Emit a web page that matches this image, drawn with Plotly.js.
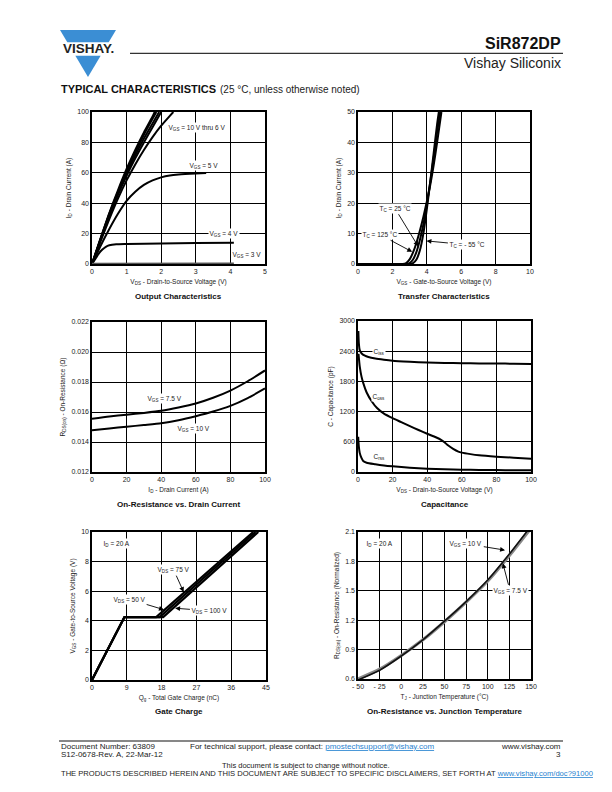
<!DOCTYPE html>
<html><head><meta charset="utf-8">
<script src="https://cdn.plot.ly/plotly-3.0.1.min.js"></script>
<style>html,body{margin:0;padding:0;background:#fff;overflow:hidden;}#page{width:612px;height:792px;}</style>
</head><body><div id="page"></div>
<script>
// ---------- DATA ----------
const out10x = [0,0.25,0.5,0.75,1,1.25,1.5,1.75,1.81];
const out10y = [0,17,33.5,48.5,62.5,75,86.5,97,100];
const out9x  = [0,0.25,0.5,0.75,1,1.25,1.5,1.75,1.86];
const out9y  = [0,16.8,33,47.5,61,73.5,85,95.5,100];
const out8x  = [0,0.25,0.5,0.75,1,1.25,1.5,1.75,1.94];
const out8y  = [0,16.5,32.5,46.5,59.5,71.5,82.5,92.5,100];
const out7x  = [0,0.25,0.5,0.75,1,1.25,1.5,1.75,2.0];
const out7y  = [0,16,31.5,45.5,58,69.5,80,90,100];
const out6x  = [0,0.25,0.5,0.75,1,1.25,1.5,1.75,2,2.25,2.35];
const out6y  = [0,15,29.5,43,55,65.5,75,83.5,91,97.5,100];
const out5x  = [0,0.25,0.5,0.75,1,1.25,1.5,1.75,2,2.25,2.5,3,3.3];
const out5y  = [0,12,23,33,41.5,47.5,52,55,57,58.2,58.8,59.5,59.8];
const out4x  = [0,0.1,0.2,0.3,0.4,0.5,0.7,1,2,3,4.1];
const out4y  = [0,3.5,7,9.5,11.3,12.3,13,13.2,13.5,13.8,14];
const out3x  = [0,4.1];
const out3y  = [0.3,0.5];
const trM55x = [0,3.0,3.2,3.4,3.6,3.8,4.0,4.2,4.4,4.6,4.7];
const trM55y = [0,0,0.3,1.5,4.5,10,18,27,36.5,46,50];
const tr25x  = [0,2.8,3.0,3.2,3.4,3.6,3.8,4.0,4.2,4.4,4.6,4.78];
const tr25y  = [0,0,0.3,1.5,4,8,13,19.5,27,35,43.5,50];
const tr125x = [0,2.6,2.8,3.0,3.2,3.4,3.6,3.8,4.0,4.2,4.4,4.6,4.85];
const tr125y = [0,0,0.3,1.5,3.8,7,11,15.5,20.5,26,32.5,40,50];
const rdsId  = [0,10,20,30,40,50,60,70,80,90,100];
const rds75  = [0.01555,0.0157,0.01582,0.01594,0.01608,0.0163,0.01657,0.01695,0.01743,0.01805,0.01877];
const rds10  = [0.01478,0.0149,0.01502,0.01513,0.01525,0.01545,0.01572,0.01603,0.01641,0.01693,0.01757];
const cissX = [0.2,0.5,1,2,4,6,10,15,20,30,40,50,60,70,80,90,100];
const cissY = [2800,2550,2420,2360,2310,2285,2255,2230,2210,2190,2175,2168,2162,2158,2155,2152,2148];
const cossX = [0.3,1,2,3,5,8,11,15,20,25,30,35,40,45,48,50,52,55,58,60,65,70,80,90,100];
const cossY = [2350,2100,1900,1770,1580,1400,1270,1160,1070,990,910,835,760,690,640,590,530,460,405,385,355,332,305,285,262];
const crssX = [0.1,0.5,1,2,3,5,10,15,20,30,40,50,60,70,80,90,100];
const crssY = [700,500,380,280,220,185,155,130,112,85,66,55,47,42,38,35,33];
const qg50x  = [0,8.4,16.6,41.7];
const qg50y  = [0,4.25,4.25,10];
const qg75x  = [0,8.4,17.5,42.3];
const qg75y  = [0,4.25,4.25,10];
const qg100x = [0,8.4,18.4,43.0];
const qg100y = [0,4.25,4.25,10];
const tjX    = [-50,-25,0,25,50,75,100,125,150];
const tj10   = [0.59,0.69,0.835,1.0,1.19,1.39,1.61,1.875,2.16];
const tj75   = [0.6,0.7,0.84,1.0,1.185,1.385,1.6,1.86,2.14];
const tjTickVals = [-50,-25,0,25,50,75,100,125,150];
const tjTickText = ['- 50','- 25','0','25','50','75','100','125','150'];

// ---------- LAYOUT ----------
const W = 612, H = 792;
const FONT = 'Liberation Sans, Arial, Helvetica, sans-serif';
const px = x => x / W;
const py = y => 1 - y / H;
const boxes = [
  [92,265,112,264],
  [358,530,112,264],
  [92,265,322,472],
  [358,531,321,472],
  [92,266,532,680],
  [358,531,532,679]
];
const traces = [];
function line(i, x, y, color, width) {
  traces.push({x:x, y:y, type:'scatter', mode:'lines', xaxis:'x'+(i===1?'':i), yaxis:'y'+(i===1?'':i),
    line:{color:color||'#000', width:width||2, shape:'spline', smoothing:0.6}, hoverinfo:'skip', showlegend:false});
}
function lineL(i, x, y, color, width) {
  traces.push({x:x, y:y, type:'scatter', mode:'lines', xaxis:'x'+(i===1?'':i), yaxis:'y'+(i===1?'':i),
    line:{color:color||'#000', width:width||2}, hoverinfo:'skip', showlegend:false});
}
line(1,out10x,out10y); line(1,out9x,out9y); line(1,out8x,out8y); line(1,out7x,out7y);
line(1,out6x,out6y); line(1,out5x,out5y); line(1,out4x,out4y); lineL(1,out3x,out3y,'#555',1.5);
line(2,tr125x,tr125y); line(2,tr25x,tr25y); line(2,trM55x,trM55y);
line(3,rdsId,rds75); line(3,rdsId,rds10);
line(4,cissX,cissY); line(4,cossX,cossY); line(4,crssX,crssY);
lineL(5,qg100x,qg100y,'#000',2.2); lineL(5,qg75x,qg75y,'#000',2.2); lineL(5,qg50x,qg50y,'#000',2.2);
line(6,tjX,tj75,'#888',3.2); line(6,tjX,tj10,'#111',1.6);

const axisCommon = {
  showgrid:true, gridcolor:'#000', gridwidth:1, showline:true, mirror:true, linecolor:'#000', linewidth:1.6,
  zeroline:false, ticks:'', automargin:false, tickfont:{family:FONT, size:7, color:'#222'}, fixedrange:true
};
const xTitles = ['V<sub>DS</sub> - Drain-to-Source Voltage (V)','V<sub>GS</sub> - Gate-to-Source Voltage (V)',
  'I<sub>D</sub> - Drain Current (A)','V<sub>DS</sub> - Drain-to-Source Voltage (V)',
  'Q<sub>g</sub> - Total Gate Charge (nC)','T<sub>J</sub> - Junction Temperature (°C)'];
const yTitles = ['I<sub>D</sub> - Drain Current (A)','I<sub>D</sub> - Drain Current (A)',
  'R<sub>DS(on)</sub> - On-Resistance (Ω)','C - Capacitance (pF)',
  'V<sub>GS</sub> - Gate-to-Source Voltage (V)','R<sub>DS(on)</sub> - On-Resistance (Normalized)'];
const xRanges = [[0,5],[0,10],[0,100],[0,100],[0,45],[-50,150]];
const yRanges = [[0,100],[0,50],[0.012,0.022],[0,3000],[0,10],[0.6,2.1]];
const xDt = [1,2,20,20,9,25];
const yDt = [20,10,0.002,600,2,0.3];
const yFmt = ['','','.3f','','','.1f'];

const layout = {width:W, height:H, autosize:false, margin:{l:0,r:0,t:0,b:0,pad:0,autoexpand:false}, paper_bgcolor:'#fff', plot_bgcolor:'#fff',
  showlegend:false, font:{family:FONT, color:'#222'}, annotations:[], shapes:[]};
for (let i=0;i<6;i++){
  const n = i+1, s = n===1?'':n;
  const b = boxes[i];
  layout['xaxis'+s] = Object.assign({}, axisCommon, {domain:[px(b[0]),px(b[1])], range:xRanges[i], dtick:xDt[i], tick0:xRanges[i][0],
    anchor:'y'+s, title:{text:xTitles[i], font:{family:FONT,size:6.5,color:'#222'}, standoff:5}});
  layout['yaxis'+s] = Object.assign({}, axisCommon, {domain:[py(b[3]),py(b[2])], range:yRanges[i], dtick:yDt[i], tick0:yRanges[i][0],
    anchor:'x'+s, tickformat:yFmt[i], title:{text:yTitles[i], font:{family:FONT,size:6.5,color:'#222'}, standoff:5}});
}
layout.xaxis6.tickmode = 'array'; layout.xaxis6.tickvals = tjTickVals; layout.xaxis6.ticktext = tjTickText;

const A = layout.annotations;
function lab(i, x, y, text, opts) {
  const s = i===1?'':i;
  A.push(Object.assign({xref:'x'+s, yref:'y'+s, x:x, y:y, text:text, showarrow:false,
    font:{family:FONT,size:6.5,color:'#222'}, bgcolor:'#fff', borderpad:0.5}, opts||{}));
}
function arr(i, hx, hy, tx, ty, text) {
  const s = i===1?'':i;
  A.push({xref:'x'+s, yref:'y'+s, axref:'x'+s, ayref:'y'+s, x:hx, y:hy, ax:tx, ay:ty, text:text,
    showarrow:true, arrowhead:2, arrowsize:1.1, arrowwidth:0.9, arrowcolor:'#000', standoff:0, startstandoff:1,
    font:{family:FONT,size:6.5,color:'#222'}, bgcolor:'#fff', borderpad:0.5});
}
lab(1, 2.17, 89.6, 'V<sub>GS</sub> = 10 V thru 6 V', {xanchor:'left'});
lab(1, 2.78, 64.6, 'V<sub>GS</sub> = 5 V', {xanchor:'left'});
lab(1, 3.34, 20.2, 'V<sub>GS</sub> = 4 V', {xanchor:'left'});
lab(1, 4.02, 6.2, 'V<sub>GS</sub> = 3 V', {xanchor:'left'});
arr(2, 3.5, 5.8, 2.15, 18.3, 'T<sub>C</sub> = 25 °C');
arr(2, 3.15, 4.0, 1.3, 9.6, 'T<sub>C</sub> = 125 °C');
arr(2, 3.98, 7.6, 6.36, 6.3, 'T<sub>C</sub> = - 55 °C');
lab(3, 41.9, 0.01688, 'V<sub>GS</sub> = 7.5 V');
lab(3, 58.5, 0.0149, 'V<sub>GS</sub> = 10 V');
lab(4, 12.3, 2395, 'C<sub>iss</sub>');
lab(4, 12.3, 1500, 'C<sub>oss</sub>');
lab(4, 11.9, 310, 'C<sub>rss</sub>');
lab(5, 2.6, 9.19, 'I<sub>D</sub> = 20 A', {xanchor:'left'});
arr(5, 23.7, 5.95, 21.1, 7.45, 'V<sub>DS</sub> = 75 V');
arr(5, 18.6, 4.75, 9.6, 5.46, 'V<sub>DS</sub> = 50 V');
arr(5, 21.5, 4.85, 30.5, 4.67, 'V<sub>DS</sub> = 100 V');
lab(6, -42.3, 1.98, 'I<sub>D</sub> = 20 A', {xanchor:'left'});
arr(6, 120, 1.915, 74.6, 1.98, 'V<sub>GS</sub> = 10 V');
arr(6, 117.5, 1.78, 125.8, 1.5, 'V<sub>GS</sub> = 7.5 V');

const chartTitles = [
  ['Output Characteristics',178.5,296],['Transfer Characteristics',444,296],
  ['On-Resistance vs. Drain Current',178.5,504],['Capacitance',444.5,504],
  ['Gate Charge',179,711],['On-Resistance vs. Junction Temperature',444.5,711]];
chartTitles.forEach(t => A.push({xref:'paper',yref:'paper',x:px(t[1]),y:py(t[2]),text:'<b>'+t[0]+'</b>',
  showarrow:false,xanchor:'center',yanchor:'middle',font:{family:FONT,size:8,color:'#111'}}));

const P = (x,y,text,size,anchor,extra) => A.push(Object.assign({xref:'paper',yref:'paper',x:px(x),y:py(y),text:text,
  showarrow:false,xanchor:anchor||'left',yanchor:'middle',font:{family:FONT,size:size,color:'#111'}}, extra||{}));
P(563,43.5,'<b>SiR872DP</b>',16,'right');
P(563,62.5,'Vishay Siliconix',14,'right',{font:{family:FONT,size:14,color:'#222'}});
P(59,89,'<b>TYPICAL CHARACTERISTICS</b>',11,'left');
P(218,89.3,'(25 °C, unless otherwise noted)',10,'left',{font:{family:FONT,size:10,color:'#222'}});
P(88,49,'<b>VISHAY.</b>',13.5,'center',{font:{family:'Liberation Sans, Arial',size:13.5,color:'#222'}});
const S = layout.shapes;
S.push({type:'line',xref:'paper',yref:'paper',x0:px(130),x1:px(563),y0:py(53.3),y1:py(53.3),line:{color:'#333',width:1.2}});
const lx = (y) => 28*(77-y)/47;
S.push({type:'path',xref:'paper',yref:'paper',fillcolor:'#3b8ed4',line:{width:0},
  path:`M${px(60)},${py(30)} L${px(116)},${py(30)} L${px(88+lx(42.3))},${py(42.3)} L${px(88-lx(42.3))},${py(42.3)} Z`});
S.push({type:'path',xref:'paper',yref:'paper',fillcolor:'#3b8ed4',line:{width:0},
  path:`M${px(88-lx(55.8))},${py(55.8)} L${px(88+lx(55.8))},${py(55.8)} L${px(88)},${py(77)} Z`});

S.push({type:'line',xref:'paper',yref:'paper',x0:px(59),x1:px(563),y0:py(741),y1:py(741),line:{color:'#111',width:1.2}});
const F = (x,y,text,size,anchor) => A.push({xref:'paper',yref:'paper',x:px(x),y:py(y),text:text,showarrow:false,
  xanchor:anchor,yanchor:'middle',font:{family:FONT,size:size,color:'#222'}});
const LINK = 'color:#1f7fcf;text-decoration:underline';
F(59,746,'Document Number: 63809',8,'left');
F(59,754.5,'S12-0678-Rev. A, 22-Mar-12',8,'left');
F(188,746,'For technical support, please contact: <span style="'+LINK+'">pmostechsupport@vishay.com</span>',8,'left');
F(563,746,'www.vishay.com',8,'right');
F(563,754.5,'3',8,'right');
F(306,765.5,'This document is subject to change without notice.',7.5,'center');
F(59,773,'THE PRODUCTS DESCRIBED HEREIN AND THIS DOCUMENT ARE SUBJECT TO SPECIFIC DISCLAIMERS, SET FORTH AT <span style="'+LINK+'">www.vishay.com/doc?91000</span>',7.6,'left');

Plotly.newPlot('page', traces, layout, {staticPlot:true, displayModeBar:false});
</script>
</body></html>
